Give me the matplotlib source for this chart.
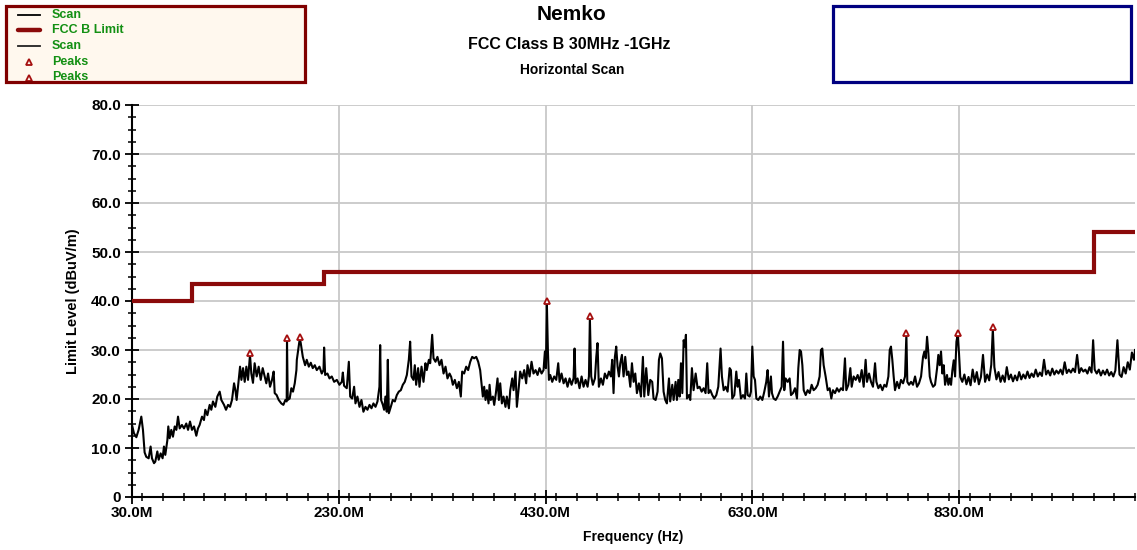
import matplotlib
matplotlib.use("Agg")
import matplotlib.pyplot as plt
from matplotlib.patches import Rectangle
from matplotlib.lines import Line2D
from matplotlib.ticker import MultipleLocator, FixedLocator, FuncFormatter

# ---------------- data ----------------
scan_freq_mhz = [
    30.0, 31.9, 34.2, 36.4, 39.0, 40.6, 42.2, 43.8, 46.1, 48.0,
    49.3, 51.3, 52.5, 54.5, 55.8, 57.7, 59.6, 60.9, 62.2, 64.2,
    65.1, 66.4, 68.0, 69.6, 71.3, 72.9, 74.5, 76.1, 78.3, 80.3,
    82.5, 84.2, 86.1, 88.0, 90.0, 92.2, 93.8, 95.4, 97.7, 99.6,
    100.9, 102.9, 105.1, 106.7, 108.3, 110.6, 112.5, 114.8, 116.4, 119.0,
    120.9, 122.9, 124.8, 126.7, 128.7, 130.0, 131.2, 133.2, 134.5, 135.8,
    137.4, 139.0, 140.6, 142.2, 144.1, 145.4, 147.0, 148.6, 150.6, 152.5,
    154.5, 156.4, 158.3, 159.9, 161.6, 163.5, 165.4, 167.0, 168.0, 169.9,
    171.9, 174.4, 176.4, 178.3, 179.6, 179.9, 180.6, 182.5, 184.1, 185.7,
    187.4, 189.0, 189.4, 192.3, 193.2, 195.2, 197.4, 199.0, 201.0, 202.9,
    204.8, 206.8, 208.7, 211.3, 213.5, 215.2, 215.8, 216.8, 219.0, 221.0,
    223.2, 225.5, 228.1, 230.6, 232.9, 233.9, 235.1, 237.7, 239.7, 241.0,
    242.9, 244.8, 246.1, 248.0, 250.0, 251.9, 253.8, 255.8, 257.7, 259.7,
    261.6, 263.5, 265.5, 267.4, 269.3, 270.0, 270.9, 272.6, 273.8, 275.1,
    276.4, 277.4, 278.4, 280.3, 282.2, 284.2, 286.1, 288.0, 290.0, 291.9,
    293.8, 295.8, 297.7, 299.0, 300.3, 302.2, 303.5, 304.8, 306.7, 308.0,
    310.0, 311.9, 313.8, 315.1, 317.1, 318.4, 320.3, 321.6, 323.5, 325.4,
    327.4, 329.3, 331.3, 333.2, 335.1, 337.1, 338.7, 340.3, 342.2, 344.2,
    346.1, 348.0, 349.3, 351.2, 353.2, 355.1, 357.1, 359.0, 360.9, 362.9,
    364.8, 366.7, 368.0, 369.3, 370.6, 371.9, 373.2, 374.8, 375.8, 377.0,
    379.0, 380.3, 381.9, 383.5, 384.8, 386.1, 387.7, 389.3, 391.2, 392.5,
    394.5, 395.8, 397.7, 399.0, 400.9, 402.2, 404.1, 405.4, 407.4, 409.3,
    411.2, 412.5, 414.5, 416.4, 418.3, 420.3, 422.2, 424.1, 426.1, 428.0,
    429.3, 430.3, 431.2, 432.2, 433.2, 434.5, 436.4, 438.3, 440.3, 442.2,
    443.5, 445.4, 447.4, 449.3, 451.2, 453.2, 455.1, 457.0, 458.0, 459.0,
    460.9, 462.8, 464.8, 466.7, 468.6, 470.6, 471.9, 472.8, 474.1, 475.7,
    477.7, 479.0, 480.2, 481.5, 483.5, 485.4, 487.3, 489.3, 491.2, 493.1,
    494.4, 495.7, 497.0, 498.3, 499.6, 500.9, 502.2, 503.8, 505.4, 507.0,
    508.6, 510.2, 511.9, 513.5, 515.1, 516.7, 518.3, 520.2, 522.2, 524.1,
    525.4, 527.3, 529.3, 531.2, 533.1, 534.4, 536.4, 538.3, 539.6, 540.9,
    542.5, 544.1, 545.7, 547.3, 549.3, 550.5, 552.5, 553.8, 555.7, 557.0,
    558.3, 559.6, 560.9, 562.2, 563.5, 564.7, 565.7, 566.7, 568.6, 569.9,
    571.5, 573.1, 575.1, 577.0, 578.9, 580.9, 582.8, 584.7, 586.3, 587.6,
    589.3, 591.2, 593.1, 595.1, 597.0, 598.3, 599.2, 600.5, 602.2, 604.1,
    606.0, 608.0, 609.2, 610.5, 612.5, 614.4, 615.7, 617.0, 618.9, 620.9,
    622.8, 624.1, 625.4, 627.3, 628.6, 629.9, 631.2, 632.5, 633.8, 635.7,
    637.6, 639.6, 641.5, 643.4, 644.7, 646.0, 647.9, 648.9, 650.5, 652.5,
    654.4, 656.3, 658.3, 659.6, 660.8, 662.1, 664.1, 666.0, 667.3, 669.2,
    671.2, 673.1, 674.4, 675.7, 677.0, 678.3, 679.6, 681.5, 683.4, 685.4,
    687.3, 689.2, 691.2, 693.1, 695.0, 696.3, 697.6, 698.9, 700.8, 702.8,
    704.7, 706.3, 707.9, 709.9, 711.8, 713.7, 715.7, 717.6, 719.5, 720.8,
    722.8, 724.7, 726.0, 727.9, 729.9, 731.8, 733.7, 735.7, 737.6, 739.5,
    740.8, 742.8, 744.7, 746.6, 748.6, 749.9, 751.8, 753.7, 755.7, 757.6,
    759.5, 761.5, 762.8, 764.0, 765.3, 766.6, 767.9, 769.9, 771.8, 773.7,
    775.7, 777.6, 778.9, 779.8, 781.5, 783.4, 785.3, 787.3, 789.2, 791.1,
    793.1, 795.0, 796.3, 797.6, 798.9, 800.2, 801.5, 802.7, 804.7, 806.6,
    808.6, 809.8, 811.1, 812.4, 813.7, 815.0, 816.3, 818.2, 819.5, 820.8,
    822.1, 823.4, 824.7, 826.0, 827.3, 828.5, 829.8, 831.0, 833.0, 835.0,
    837.0, 839.0, 841.0, 843.0, 845.0, 847.0, 849.0, 851.0, 853.0, 855.0,
    857.0, 859.0, 861.0, 862.5, 864.0, 866.0, 868.0, 870.0, 872.0, 874.0,
    876.0, 878.0, 880.0, 882.0, 884.0, 886.0, 888.0, 890.0, 892.0, 894.0,
    896.0, 898.0, 900.0, 902.0, 904.0, 906.0, 908.0, 910.0, 912.0, 914.0,
    916.0, 918.0, 920.0, 922.0, 924.0, 926.0, 928.0, 930.0, 932.0, 934.0,
    936.0, 938.0, 940.0, 942.0, 944.0, 946.0, 948.0, 950.0, 952.0, 954.0,
    956.0, 958.0, 959.5, 961.0, 963.0, 965.0, 967.0, 969.0, 971.0, 973.0,
    975.0, 977.0, 979.0, 981.0, 983.0, 985.0, 987.0, 989.0, 991.0, 993.0,
    995.0, 997.0, 999.0, 1000.0,
]
scan_level_dbuv = [
    14.7, 13.0, 12.2, 13.7, 16.4, 13.7, 9.1, 8.2, 7.9, 10.3,
    7.9, 6.9, 7.2, 9.3, 7.6, 8.9, 7.9, 10.3, 8.6, 11.6,
    14.4, 12.0, 13.7, 12.3, 14.4, 13.7, 16.4, 14.0, 14.7, 14.0,
    15.0, 13.7, 15.4, 13.7, 14.4, 12.5, 14.0, 14.7, 16.4, 15.7,
    17.8, 16.7, 18.8, 17.8, 19.5, 18.4, 20.5, 21.5, 19.8, 18.8,
    17.8, 18.8, 18.4, 19.8, 23.2, 21.8, 19.8, 23.9, 26.6, 23.9,
    26.3, 23.5, 26.6, 23.9, 29.0, 25.2, 23.3, 27.3, 24.6, 26.6,
    23.9, 26.3, 24.6, 23.2, 25.2, 22.5, 23.9, 25.6, 21.2, 20.8,
    19.8, 19.1, 18.8, 19.8, 19.5, 32.3, 19.8, 20.1, 22.2, 21.5,
    23.2, 25.9, 28.0, 32.4, 31.4, 28.6, 26.9, 28.0, 26.6, 27.4,
    26.3, 26.9, 25.9, 26.6, 25.2, 25.9, 30.5, 24.9, 25.2, 24.2,
    24.6, 23.5, 23.9, 22.9, 23.5, 25.4, 22.7, 22.2, 27.6, 20.5,
    20.1, 22.5, 19.1, 20.5, 18.4, 19.8, 17.4, 18.4, 17.8, 18.8,
    18.1, 19.1, 18.4, 19.5, 22.5, 31.0, 19.8, 18.8, 17.8, 20.5,
    17.4, 28.0, 17.1, 18.4, 19.8, 19.5, 20.8, 21.5, 21.8, 22.9,
    23.5, 24.9, 28.0, 31.7, 24.6, 23.9, 26.9, 22.9, 26.3, 22.5,
    26.6, 23.5, 27.3, 25.9, 28.0, 27.3, 33.1, 28.3, 27.6, 28.6,
    26.9, 28.0, 25.2, 26.6, 24.2, 25.2, 24.5, 22.9, 23.9, 22.2,
    23.5, 20.5, 25.6, 25.2, 26.6, 25.9, 27.6, 28.6, 28.3, 28.6,
    27.6, 25.9, 23.2, 20.5, 22.5, 19.8, 21.8, 19.1, 22.9, 19.8,
    20.5, 18.8, 21.2, 24.2, 19.8, 23.2, 19.1, 20.5, 18.4, 20.5,
    18.1, 21.8, 24.2, 21.8, 25.6, 18.4, 22.5, 25.6, 24.2, 25.9,
    23.2, 26.9, 24.6, 27.6, 25.2, 25.9, 24.9, 26.3, 25.2, 25.9,
    29.7, 26.3, 39.7, 30.0, 23.9, 24.9, 23.5, 24.6, 23.9, 27.3,
    23.5, 25.2, 23.2, 24.2, 22.5, 24.2, 22.9, 24.2, 30.3, 23.2,
    24.2, 22.2, 24.6, 22.5, 23.9, 22.5, 24.6, 36.6, 24.6, 22.9,
    24.2, 28.6, 31.4, 22.5, 24.2, 22.9, 25.2, 24.2, 25.6, 24.6,
    28.0, 21.2, 28.6, 30.7, 26.6, 24.6, 27.3, 29.0, 24.6, 28.6,
    24.9, 25.6, 22.5, 27.3, 23.5, 25.2, 21.2, 23.2, 20.5, 28.6,
    20.5, 26.3, 20.8, 23.9, 23.5, 20.1, 19.8, 21.5, 28.0, 29.3,
    28.3, 21.5, 19.8, 19.1, 24.2, 19.5, 22.9, 19.8, 23.5, 19.8,
    23.9, 20.5, 27.3, 21.2, 32.0, 30.7, 33.1, 20.1, 20.8, 19.8,
    26.3, 21.8, 25.2, 22.2, 22.5, 21.5, 22.2, 21.2, 27.3, 21.2,
    21.8, 20.8, 20.1, 20.8, 22.5, 27.3, 30.3, 24.6, 21.8, 22.5,
    21.5, 26.3, 25.9, 20.1, 20.8, 25.6, 22.5, 23.9, 20.1, 20.8,
    20.1, 25.2, 20.8, 20.5, 21.5, 30.7, 24.6, 23.9, 20.1, 19.8,
    20.5, 19.8, 21.5, 23.5, 25.9, 20.5, 24.6, 21.2, 20.1, 19.8,
    20.5, 21.5, 22.5, 31.7, 21.8, 24.2, 23.5, 24.2, 20.8, 21.2,
    22.2, 20.1, 26.3, 30.0, 29.7, 26.9, 21.8, 20.8, 21.8, 21.2,
    22.9, 21.8, 22.2, 22.9, 24.6, 30.0, 30.3, 26.9, 24.6, 21.8,
    22.2, 20.1, 21.8, 21.2, 22.2, 21.5, 22.2, 21.8, 28.3, 21.8,
    22.9, 26.3, 22.5, 24.6, 23.9, 24.9, 23.5, 25.9, 22.5, 28.0,
    23.5, 25.2, 23.5, 22.5, 27.3, 23.5, 22.2, 22.9, 21.8, 22.9,
    22.5, 24.6, 30.0, 30.7, 28.0, 24.6, 21.8, 23.5, 22.2, 23.9,
    23.2, 24.6, 33.2, 23.5, 22.9, 23.5, 22.9, 24.6, 22.5, 23.2,
    24.6, 28.6, 29.7, 28.3, 32.7, 29.3, 24.6, 23.5, 22.5, 22.9,
    26.3, 29.0, 26.9, 29.7, 25.2, 26.9, 22.9, 24.9, 22.9, 24.2,
    22.9, 25.9, 27.9, 24.6, 31.7, 33.1, 29.3, 24.5, 23.5, 25.0,
    23.0, 24.5, 22.8, 26.0, 23.5, 25.5, 23.0, 24.5, 29.0, 23.5,
    25.0, 23.8, 27.0, 34.3, 26.5, 24.0, 25.5, 23.5, 24.8, 23.5,
    26.5, 24.0, 25.0, 23.6, 24.8, 23.8, 25.5, 24.0, 25.0, 24.2,
    25.6, 24.3, 25.2, 24.5, 26.0, 24.6, 25.4, 24.7, 28.0, 25.0,
    25.8, 24.8, 26.2, 25.0, 25.8, 25.2, 26.0, 25.0, 27.5, 25.3,
    26.0, 25.4, 26.2, 25.5, 29.0, 25.3, 26.3, 25.6, 26.0, 25.2,
    26.5, 25.4, 32.0, 26.0, 25.2, 26.0, 24.8, 25.8, 25.0, 26.0,
    24.8, 25.5, 24.6, 25.8, 32.0, 25.0, 24.5, 26.5, 25.2, 27.5,
    26.0, 29.5, 28.0, 30.0,
]
assert len(scan_freq_mhz) == len(scan_level_dbuv)

limit_edges_mhz = [30, 88, 216, 960, 1000]
limit_levels = [40.0, 43.5, 46.0, 54.0]

peak_freq_mhz = [144.1, 179.9, 192.3, 431.2, 472.8, 778.9, 828.5, 862.5]
peak_level = [29.3, 32.5, 32.7, 40.0, 36.9, 33.5, 33.5, 34.7]

x_major_ticks = [30, 230, 430, 630, 830]
y_major_ticks = [0, 10, 20, 30, 40, 50, 60, 70, 80]

title_main = "Nemko"
title_sub = "FCC Class B 30MHz -1GHz"
title_sub2 = "Horizontal Scan"
legend_labels = ["Scan", "FCC B Limit", "Scan", "Peaks", "Peaks"]

# ---------------- style ----------------
FONT = "Liberation Sans"
plt.rcParams["font.family"] = [FONT, "DejaVu Sans"]
plt.rcParams["font.weight"] = "bold"

W, H = 1137, 550
fig = plt.figure(figsize=(W / 100, H / 100), dpi=100)
fig.patch.set_facecolor("white")

def fx(px):
    return px / W

def fy(py):
    return 1 - py / H

LIMIT_COLOR = "#8b0a0a"
PEAK_COLOR = "#a50f0f"
GREEN = "#139013"

ax = fig.add_axes([fx(132), fy(497), (1135 - 132) / W, (497 - 105) / H])
ax.set_xlim(30, 1000)
ax.set_ylim(0, 80)

ax.plot(scan_freq_mhz, scan_level_dbuv, color="black", lw=1.5, zorder=3)
ax.stairs(limit_levels, limit_edges_mhz, baseline=None, color=LIMIT_COLOR,
          lw=3.0, zorder=4)
ax.plot(peak_freq_mhz, peak_level, linestyle="none", marker="^", ms=4.5,
        mfc="white", mec=PEAK_COLOR, mew=1.3, zorder=5)

for s in ["top", "right"]:
    ax.spines[s].set_visible(False)
for s in ["left", "bottom"]:
    ax.spines[s].set_linewidth(1.5)
    ax.spines[s].set_color("black")

ax.xaxis.set_major_locator(FixedLocator(x_major_ticks))
ax.xaxis.set_minor_locator(MultipleLocator(20))
ax.yaxis.set_major_locator(FixedLocator(y_major_ticks))
ax.yaxis.set_minor_locator(MultipleLocator(2.5))
ax.xaxis.set_major_formatter(FuncFormatter(lambda v, p: f"{v:.1f}M"))
ax.yaxis.set_major_formatter(
    FuncFormatter(lambda v, p: "0" if v == 0 else f"{v:.1f}"))

ax.tick_params(which="major", direction="inout", length=10, width=1.3,
               labelsize=11, pad=1.5)
ax.tick_params(which="minor", direction="inout", length=5.5, width=1.1)
ax.tick_params(axis="y", which="major", pad=3)
for lbl in ax.get_xticklabels() + ax.get_yticklabels():
    lbl.set_fontweight("bold")

ax.grid(which="major", color="#c8c8c8", lw=1.3, zorder=0)
ax.set_axisbelow(True)

ax.set_xlabel("Frequency (Hz)", fontsize=10, fontweight="bold")
ax.xaxis.set_label_coords(0.5, (497 - 530) / 392)
ax.xaxis.label.set_va("top")
ax.set_ylabel("Limit Level (dBuV/m)", fontsize=10.5, fontweight="bold")
ax.yaxis.set_label_coords((80 - 132) / 1003, 0.5)

# titles
fig.text(fx(572), fy(14), title_main, ha="center", va="center",
         fontsize=15, fontweight="bold")
fig.text(fx(569), fy(44.5), title_sub, ha="center", va="center",
         fontsize=11.5, fontweight="bold")
fig.text(fx(572), fy(70), title_sub2, ha="center", va="center",
         fontsize=10, fontweight="bold")

# legend box (top-left)
lx0, ly0, lx1, ly1 = 6, 6, 305, 82
face = Rectangle((fx(lx0), fy(ly1)), fx(lx1 - lx0), (ly1 - ly0) / H,
                 transform=fig.transFigure, facecolor="#fff8ee",
                 edgecolor="none", zorder=1)
fig.add_artist(face)
border = Rectangle((fx(lx0), fy(ly1)), fx(lx1 - lx0), (ly1 - ly0) / H,
                   transform=fig.transFigure, facecolor="none",
                   edgecolor="#800000", lw=2.3, zorder=4)
fig.add_artist(border)

rows = [15, 30, 46, 62, 77.5]
handle_styles = [
    dict(color="black", lw=1.3),
    dict(color=LIMIT_COLOR, lw=3.2, solid_capstyle="round"),
    dict(color="#222222", lw=1.3),
    None,
    None,
]
for label, ry, st in zip(legend_labels, rows, handle_styles):
    if st is not None:
        ln = Line2D([fx(18), fx(40)], [fy(ry), fy(ry)],
                    transform=fig.transFigure, zorder=3, **st)
    else:
        ln = Line2D([fx(29)], [fy(ry)], transform=fig.transFigure,
                    linestyle="none", marker="^", ms=4, mfc="#fff8ee",
                    mec=PEAK_COLOR, mew=1.3, zorder=3)
    ln.set_clip_path(face)
    fig.add_artist(ln)
    t = fig.text(fx(52), fy(ry), label, ha="left", va="center",
                 fontsize=9, fontweight="bold", color=GREEN, zorder=3)
    t.set_clip_path(face)

# right (empty) box
rbox = Rectangle((fx(833), fy(82)), fx(1131 - 833), (82 - 6) / H,
                 transform=fig.transFigure, facecolor="white",
                 edgecolor="#000080", lw=2.3, zorder=2)
fig.add_artist(rbox)

fig.savefig("out.png", dpi=100)
